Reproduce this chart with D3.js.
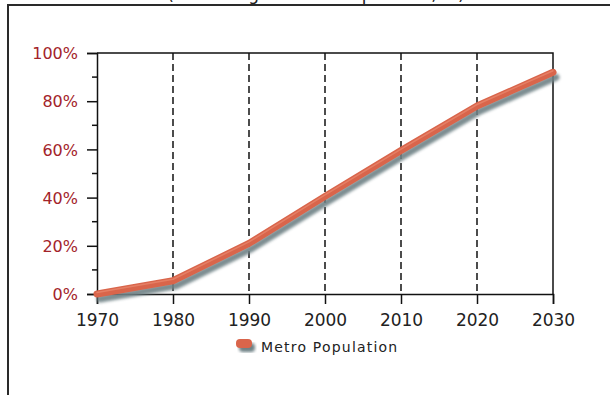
<!DOCTYPE html>
<html>
<head>
<meta charset="utf-8">
<script src="https://cdn.jsdelivr.net/npm/d3@7"></script>
<style>
  html, body { margin: 0; padding: 0; background: #fff; }
  svg { display: block; }
  text { font-family: "DejaVu Sans", Verdana, sans-serif; }
</style>
</head>
<body>
<svg id="chart" width="610" height="395"></svg>
<script>
// Share of population living in metro areas, by decade
const years = [1970, 1980, 1990, 2000, 2010, 2020, 2030];
const metroShare = [0, 5.5, 21, 40.5, 59.5, 78, 92];
const yTicks = [0, 20, 40, 60, 80, 100];
const yMinorTicks = [10, 30, 50, 70, 90];
const seriesName = "Metro Population";
const titleText = "(Percentage of Total Population, %)";

const svg = d3.select("#chart");
const W = 610, H = 395;
const margin = { left: 97, right: 57, top: 53, bottom: 101 };

const x = d3.scaleLinear().domain([1970, 2030]).range([margin.left, W - margin.right]);
const y = d3.scaleLinear().domain([0, 100]).range([H - margin.bottom, margin.top]);

const defs = svg.append("defs");
const f = defs.append("filter").attr("id", "soft").attr("x", "-10%").attr("y", "-10%").attr("width", "120%").attr("height", "120%");
f.append("feGaussianBlur").attr("stdDeviation", 1.6);

// outer frame (top and left edges visible)
svg.append("path")
  .attr("d", `M8,${H} V5 H${W}`)
  .attr("fill", "none").attr("stroke", "#2a2a2a").attr("stroke-width", 2);

// title, mostly above the frame
svg.append("text")
  .attr("x", 316).attr("y", 0)
  .attr("text-anchor", "middle")
  .attr("font-size", 17).attr("fill", "#222")
  .text(titleText);

// dashed vertical grid lines at inner decades
svg.append("g").selectAll("line")
  .data(years.slice(1, -1))
  .join("line")
  .attr("x1", d => x(d)).attr("x2", d => x(d))
  .attr("y1", y(100)).attr("y2", y(0))
  .attr("stroke", "#000").attr("stroke-width", 1.4)
  .attr("stroke-dasharray", "7,4");

// plot border: top and right
svg.append("path")
  .attr("d", `M${x(1970)},${y(100)} H${x(2030)} V${y(0)}`)
  .attr("fill", "none").attr("stroke", "#111").attr("stroke-width", 1.5);

// y axis
const yAxis = svg.append("g")
  .attr("transform", `translate(${x(1970)},0)`)
  .call(d3.axisLeft(y).tickValues(yTicks).tickSize(10).tickFormat(d => d + "%"));
yAxis.select(".domain").attr("stroke", "#111").attr("stroke-width", 1.5);
yAxis.selectAll(".tick line").attr("stroke", "#111").attr("stroke-width", 1.5);
yAxis.selectAll(".tick text")
  .attr("font-size", 16).attr("fill", "#a3232a")
  .attr("font-family", "DejaVu Sans, sans-serif")
  .attr("x", -19).attr("dy", "0.36em");

// minor y ticks
svg.append("g").selectAll("line")
  .data(yMinorTicks)
  .join("line")
  .attr("x1", x(1970) - 5).attr("x2", x(1970))
  .attr("y1", d => y(d)).attr("y2", d => y(d))
  .attr("stroke", "#111").attr("stroke-width", 1.5);

// x axis
const xAxis = svg.append("g")
  .attr("transform", `translate(0,${y(0)})`)
  .call(d3.axisBottom(x).tickValues(years).tickSize(10).tickFormat(d3.format("d")));
xAxis.select(".domain").attr("stroke", "#111").attr("stroke-width", 1.5);
xAxis.selectAll(".tick line").attr("stroke", "#111").attr("stroke-width", 1.5);
xAxis.selectAll(".tick text")
  .attr("font-size", 17).attr("fill", "#222")
  .attr("font-family", "DejaVu Sans, sans-serif")
  .attr("y", 18).attr("dy", "0.8em");

// series line with a soft drop shadow
const pts = years.map((yr, i) => [yr, metroShare[i]]);
const line = d3.line().x(d => x(d[0])).y(d => y(d[1]));

svg.append("path")
  .datum(pts)
  .attr("d", line)
  .attr("transform", "translate(3,5)")
  .attr("fill", "none").attr("stroke", "#6e8185").attr("stroke-width", 7)
  .attr("stroke-linecap", "round").attr("stroke-linejoin", "round")
  .attr("filter", "url(#soft)").attr("opacity", 0.9);

svg.append("path")
  .datum(pts)
  .attr("d", line)
  .attr("fill", "none").attr("stroke", "#d9654b").attr("stroke-width", 7)
  .attr("stroke-linecap", "round").attr("stroke-linejoin", "round");

svg.append("path")
  .datum(pts)
  .attr("d", line)
  .attr("transform", "translate(0,-1.5)")
  .attr("fill", "none").attr("stroke", "#ea8a70").attr("stroke-width", 1.5)
  .attr("stroke-linecap", "round").attr("stroke-linejoin", "round")
  .attr("opacity", 0.7);

// legend
const lg = svg.append("g").attr("transform", "translate(236,339)");
lg.append("rect")
  .attr("x", 3).attr("y", 4).attr("width", 16).attr("height", 9).attr("rx", 4)
  .attr("fill", "#6e8185").attr("filter", "url(#soft)");
lg.append("rect")
  .attr("x", 0).attr("y", 0).attr("width", 16).attr("height", 9).attr("rx", 4)
  .attr("fill", "#d9654b");
lg.append("text")
  .attr("x", 25).attr("y", 9)
  .attr("dy", "0.32em")
  .attr("font-size", 14).attr("letter-spacing", 1.2)
  .attr("fill", "#222")
  .text(seriesName);
</script>
</body>
</html>
